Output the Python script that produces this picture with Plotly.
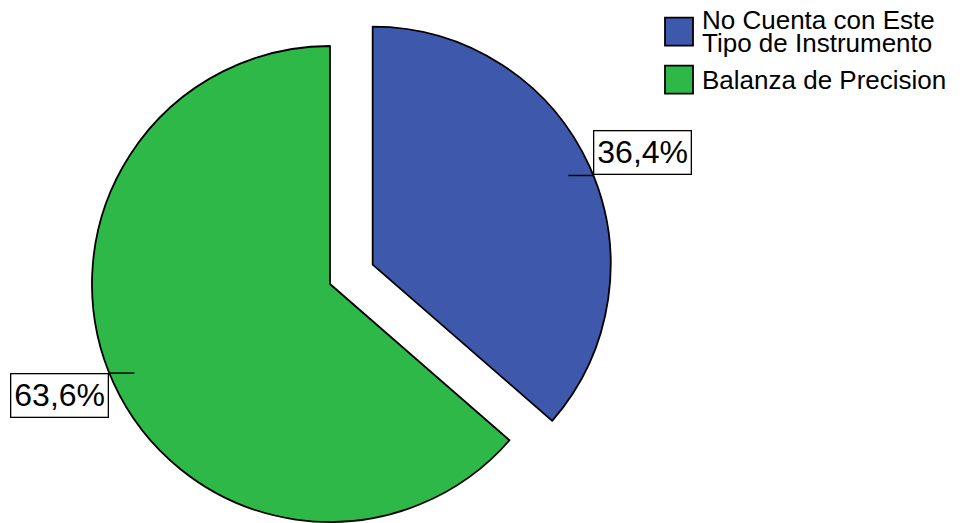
import math
import plotly.graph_objects as go

# ---- data ----
categories = ["No Cuenta con Este Tipo de Instrumento", "Balanza de Precision"]
legend_lines = [["No Cuenta con Este", "Tipo de Instrumento"], ["Balanza de Precision"]]
percentages = [36.4, 63.6]
pull = [0.197, 0.0]
colors = ["#3E58AC", "#2EB848"]

# ---- layout geometry (pixels) ----
W, H = 960, 523
CX, CY = 330.0, 284.0      # centre of the un-exploded pie
R = 238.0                  # pie radius
LABEL_NUDGE = 2.5          # degrees the label leader sits past the slice middle
LEADER = 25.0              # leader line length
FONT = "Liberation Sans, Arial, sans-serif"


def px(x):
    return x / W


def py(y):
    return 1.0 - y / H


total = sum(percentages)
mids = []
acc = 0.0
for v in percentages:
    span = 360.0 * v / total
    mids.append(acc + span / 2.0)
    acc += span

fig = go.Figure()
annotations = []
shapes = []

for i, (lab, val) in enumerate(zip(categories, percentages)):
    mid = math.radians(mids[i])
    off = pull[i] * R
    cx = CX + off * math.sin(mid)
    cy = CY - off * math.cos(mid)

    # one trace per slice so each can be offset independently
    fig.add_trace(go.Pie(
        labels=categories,
        values=percentages,
        sort=False,
        direction="clockwise",
        rotation=0,
        textinfo="none",
        hoverinfo="label+percent",
        showlegend=False,
        marker=dict(
            colors=[colors[j] if j == i else "rgba(0,0,0,0)" for j in range(len(categories))],
            line=dict(color="black",
                      width=[1.8 if j == i else 0 for j in range(len(categories))]),
        ),
        domain=dict(x=[px(cx - R), px(cx + R)], y=[py(cy + R), py(cy - R)]),
    ))

    # percentage label with a leader line
    th = math.radians(mids[i] + LABEL_NUDGE)
    ex = cx + R * math.sin(th)
    ey = cy - R * math.cos(th)
    right_side = math.sin(th) > 0
    sgn = 1 if right_side else -1
    shapes.append(dict(type="line", xref="paper", yref="paper",
                       x0=px(ex - sgn * LEADER), y0=py(ey), x1=px(ex), y1=py(ey),
                       line=dict(color="black", width=1.5)))
    text = f"{val:.1f}".replace(".", ",") + "%"
    annotations.append(dict(
        x=px(ex), y=py(ey), xref="paper", yref="paper",
        xanchor="left" if right_side else "right",
        yanchor="bottom" if right_side else "top",
        text=text, showarrow=False,
        font=dict(family=FONT, size=32, color="black"),
        bgcolor="white", bordercolor="black", borderwidth=1.3, borderpad=3,
    ))

# ---- legend ----
LEG_X0, LEG_SW = 665.0, 28.0
LEG_TEXT_X = 700.0
LINE_H = 22.5
row_top = [17.7, 65.7]
for i, lines in enumerate(legend_lines):
    top = row_top[i]
    shapes.append(dict(type="rect", xref="paper", yref="paper",
                       x0=px(LEG_X0), x1=px(LEG_X0 + LEG_SW),
                       y0=py(top + LEG_SW), y1=py(top),
                       fillcolor=colors[i], line=dict(color="black", width=1.8)))
    n = len(lines)
    centre = top + LEG_SW / 2.0
    for k, ln in enumerate(lines):
        yc = centre + (k - (n - 1) / 2.0) * LINE_H
        annotations.append(dict(
            x=px(LEG_TEXT_X), y=py(yc), xref="paper", yref="paper",
            xanchor="left", yanchor="middle", text=ln, showarrow=False,
            font=dict(family=FONT, size=26, color="black"),
        ))

fig.update_layout(
    width=W, height=H,
    margin=dict(l=0, r=0, t=0, b=0),
    paper_bgcolor="white",
    plot_bgcolor="white",
    showlegend=False,
    shapes=shapes,
    annotations=annotations,
    font=dict(family=FONT),
)

fig.write_html("out.html")
